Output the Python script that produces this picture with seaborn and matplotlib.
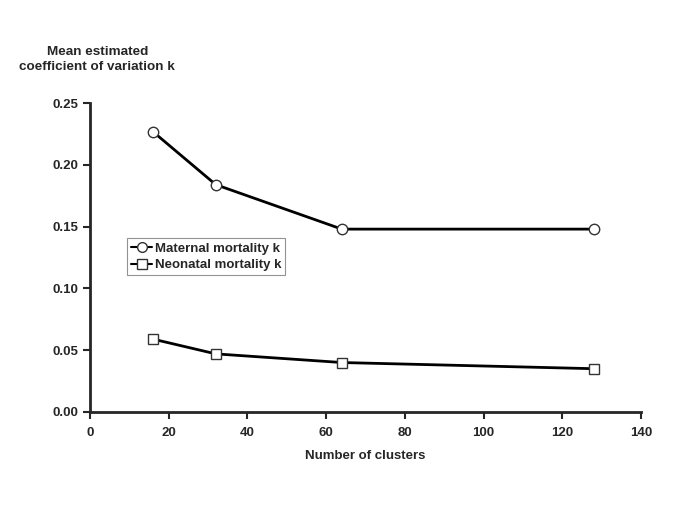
#!/usr/bin/env python3
"""Mean estimated coefficient of variation k vs number of clusters."""

import matplotlib

matplotlib.use("Agg")
import matplotlib.pyplot as plt
import pandas as pd
import seaborn as sns

clusters = [16, 32, 64, 128]
maternal_k = [0.227, 0.184, 0.148, 0.148]
neonatal_k = [0.059, 0.047, 0.040, 0.035]

x_ticks = [0, 20, 40, 60, 80, 100, 120, 140]
y_ticks = [0.00, 0.05, 0.10, 0.15, 0.20, 0.25]

sns.set_style("ticks")
plt.rcParams["font.family"] = ["Liberation Sans", "DejaVu Sans"]
plt.rcParams["font.weight"] = "bold"

df = pd.DataFrame(
    {
        "clusters": clusters * 2,
        "k": maternal_k + neonatal_k,
        "series": ["Maternal mortality k"] * 4 + ["Neonatal mortality k"] * 4,
    }
)

fig = plt.figure(figsize=(6.85, 5.13), dpi=100)
ax = fig.add_axes([0.131, 0.197, 0.805, 0.602])

sns.lineplot(
    data=df,
    x="clusters",
    y="k",
    hue="series",
    style="series",
    markers={"Maternal mortality k": "o", "Neonatal mortality k": "s"},
    dashes=False,
    palette=["black", "black"],
    markersize=7.5,
    markerfacecolor="white",
    markeredgecolor="#333333",
    markeredgewidth=1.0,
    linewidth=2,
    ax=ax,
)

ax.set_xlim(0, 140)
ax.set_ylim(0, 0.25)
ax.set_xticks(x_ticks)
ax.set_yticks(y_ticks)
ax.set_yticklabels([f"{v:.2f}" for v in y_ticks])
ax.tick_params(axis="both", direction="out", length=5, width=1.5, labelsize=9.5)
ax.tick_params(axis="x", pad=6)
for side in ["left", "bottom"]:
    ax.spines[side].set_linewidth(2)
sns.despine(ax=ax)

ax.set_xlabel("Number of clusters", fontsize=9.5, fontweight="bold", labelpad=8)
ax.set_ylabel("")
fig.text(
    0.142,
    0.884,
    "Mean estimated\ncoefficient of variation k",
    ha="center",
    va="center",
    fontsize=9.7,
    fontweight="bold",
    linespacing=1.25,
)

leg = ax.legend(
    loc="upper left",
    bbox_to_anchor=(0.068, 0.562),
    frameon=True,
    fancybox=False,
    fontsize=9.5,
    handlelength=1.6,
    handletextpad=0.2,
    borderpad=0.3,
    labelspacing=0.35,
    borderaxespad=0,
)
leg.get_frame().set_edgecolor("#777777")
leg.get_frame().set_linewidth(0.8)
for h in leg.legend_handles:
    h.set_markerfacecolor("white")
    h.set_markeredgecolor("#333333")
    h.set_markersize(7)
    h.set_linewidth(1.5)

fig.savefig("out.png", dpi=100)
